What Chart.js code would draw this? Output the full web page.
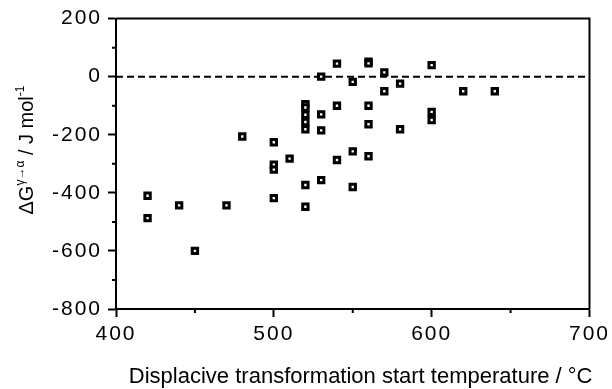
<!DOCTYPE html>
<html><head><meta charset="utf-8">
<script src="https://cdn.jsdelivr.net/npm/chart.js@4/dist/chart.umd.min.js"></script>
<style>html,body{margin:0;padding:0;background:#fff}</style>
</head><body>
<canvas id="c" width="612" height="389" style="width:612px;height:389px;display:block"></canvas>
<script>
// Data
const temperature = [420,420,440,450,470,480,500,500,500,500,510,520,520,520,520,520,520,520,530,530,530,530,540,540,540,550,550,550,560,560,560,560,560,570,570,580,580,600,600,600,620,640];
const deltaG = [-410,-487,-443,-600,-443,-206,-226,-303,-320,-418,-282,-95,-106,-131,-156,-181,-373,-448,0,-130,-185,-356,45,-100,-287,-18,-257,-380,52,46,-100,-164,-274,15,-50,-24,-181,40,-121,-149,-50,-50];
const zeroLineX = [400, 700];
const zeroLineY = [0, 0];
const xMinorTicks = [450, 550, 650];
const yMinorTicks = [100, -100, -300, -500, -700];
const xTitle = 'Displacive transformation start temperature / \u00B0C';
const yTitleParts = [['\u0394G', false], ['\u03B3\u2192\u03B1', true], [' / J mol', false], ['-1', true]];

const FONT = '"Liberation Sans", Arial, Helvetica, sans-serif';
Chart.defaults.font.family = FONT;
Chart.defaults.color = '#000';

const points = temperature.map((t, i) => ({x: t, y: deltaG[i]}));
const zeroLine = zeroLineX.map((x, i) => ({x: x, y: zeroLineY[i]}));

const decor = {
  id: 'decor',
  beforeDraw(chart) {
    chart.ctx.letterSpacing = '2px';
  },
  afterDatasetsDraw(chart) {
    const ctx = chart.ctx, a = chart.chartArea;
    const xs = chart.scales.x, ys = chart.scales.y;
    ctx.save();
    ctx.strokeStyle = '#000';
    ctx.lineWidth = 2;
    ctx.beginPath();
    ctx.moveTo(a.left, a.top); ctx.lineTo(a.right, a.top); ctx.lineTo(a.right, a.bottom);
    ctx.stroke();
    ctx.beginPath();
    yMinorTicks.forEach(v => { const p = ys.getPixelForValue(v); ctx.moveTo(a.left - 4, p); ctx.lineTo(a.left, p); });
    xMinorTicks.forEach(v => { const p = xs.getPixelForValue(v); ctx.moveTo(p, a.bottom); ctx.lineTo(p, a.bottom + 4); });
    ctx.stroke();
    ctx.restore();
  },
  afterDraw(chart) {
    const ctx = chart.ctx, a = chart.chartArea;
    ctx.save();
    ctx.letterSpacing = '0px';
    ctx.fillStyle = '#000';
    ctx.font = '22px ' + FONT;
    ctx.textAlign = 'right';
    ctx.textBaseline = 'alphabetic';
    ctx.fillText(xTitle, a.right + 3, 383);
    // y title with superscripts
    const big = '20px ' + FONT, small = '12px ' + FONT;
    let total = 0;
    yTitleParts.forEach(([t, sup]) => { ctx.font = sup ? small : big; total += ctx.measureText(t).width; });
    ctx.translate(33, 150);
    ctx.rotate(-Math.PI / 2);
    ctx.textAlign = 'left';
    let xPos = -total / 2;
    yTitleParts.forEach(([t, sup]) => {
      ctx.font = sup ? small : big;
      ctx.fillText(t, xPos, sup ? -9 : 0);
      xPos += ctx.measureText(t).width;
    });
    ctx.restore();
  }
};

new Chart(document.getElementById('c'), {
  type: 'scatter',
  data: {
    datasets: [
      {
        type: 'scatter',
        data: points,
        pointStyle: 'rect',
        pointRadius: 3.8,
        pointHoverRadius: 3.8,
        borderWidth: 3,
        borderColor: '#000',
        backgroundColor: '#fff',
        order: 0
      },
      {
        type: 'line',
        data: zeroLine,
        borderColor: '#000',
        borderWidth: 2,
        borderDash: [7, 4],
        pointRadius: 0,
        fill: false,
        order: 1
      }
    ]
  },
  options: {
    responsive: false,
    animation: false,
    devicePixelRatio: 1,
    layout: { padding: { top: 16, right: 22, left: 0, bottom: 0 } },
    plugins: { legend: { display: false }, tooltip: { enabled: false }, title: { display: false } },
    scales: {
      x: {
        type: 'linear', min: 400, max: 700,
        ticks: { stepSize: 100, font: { size: 21 }, color: '#000', padding: 5, maxRotation: 0 },
        grid: { drawOnChartArea: false, drawTicks: true, tickLength: 8, tickColor: '#000', tickWidth: 2 },
        border: { display: true, color: '#000', width: 2 },
        afterFit(s) { s.height = 80; }
      },
      y: {
        type: 'linear', min: -800, max: 200,
        ticks: { stepSize: 200, font: { size: 21 }, color: '#000', padding: 6 },
        grid: { drawOnChartArea: false, drawTicks: true, tickLength: 8, tickColor: '#000', tickWidth: 2 },
        border: { display: true, color: '#000', width: 2 },
        afterFit(s) { s.width = 116; }
      }
    }
  },
  plugins: [decor]
});
</script>
</body></html>
